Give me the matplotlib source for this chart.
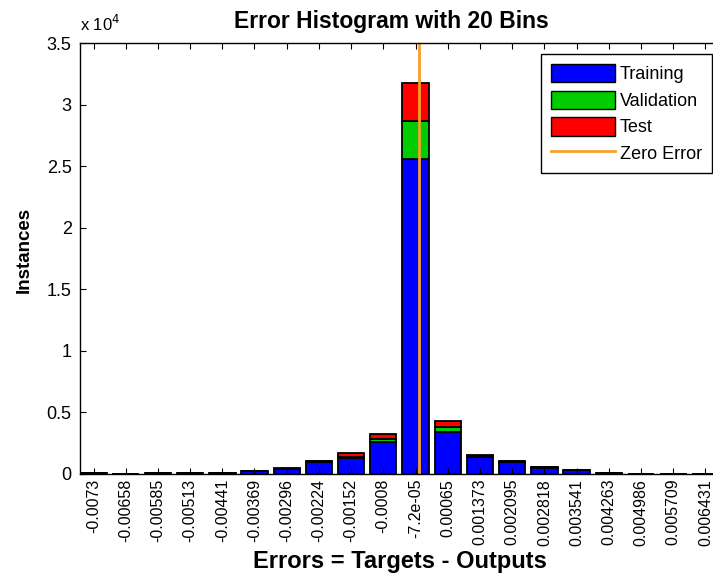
import matplotlib
matplotlib.use("Agg")
import matplotlib.pyplot as plt
import numpy as np
from matplotlib.patches import Patch
from matplotlib.lines import Line2D
from matplotlib.ticker import FuncFormatter, FixedLocator

plt.rcParams['font.family'] = ['Liberation Sans', 'DejaVu Sans']

# Bin centres (also used as tick labels)
bin_labels = ['-0.0073', '-0.00658', '-0.00585', '-0.00513', '-0.00441',
              '-0.00369', '-0.00296', '-0.00224', '-0.00152', '-0.0008',
              '-7.2e-05', '0.00065', '0.001373', '0.002095', '0.002818',
              '0.003541', '0.004263', '0.004986', '0.005709', '0.006431']
bin_centers = [float(s) for s in bin_labels]

training = [70, 0, 50, 50, 50, 220, 420, 1000, 1270, 2570,
            25550, 3430, 1400, 1000, 520, 310, 40, 30, 30, 30]
validation = [5, 0, 5, 5, 5, 10, 20, 40, 110, 250,
              3080, 400, 60, 40, 25, 15, 3, 3, 3, 3]
test = [5, 0, 5, 5, 5, 10, 20, 40, 300, 400,
        3160, 470, 70, 50, 25, 15, 3, 3, 3, 3]

series_names = ['Training', 'Validation', 'Test', 'Zero Error']
series_colors = ['#0000FF', '#00CC00', '#FF0000']
zero_color = '#F5A02A'

W, H = 713, 585
fig = plt.figure(figsize=(W / 100, H / 100), dpi=100)
ax = fig.add_axes([80 / W, 1 - 474 / H, 639 / W, (474 - 43) / H])

x = np.array(bin_centers)
step = (x[-1] - x[0]) / (len(x) - 1)
width = 0.82 * step

tr = np.array(training)
va = np.array(validation)
te = np.array(test)
ax.bar(x, tr, width=width, color=series_colors[0], edgecolor='black', linewidth=1.3)
ax.bar(x, va, width=width, bottom=tr, color=series_colors[1], edgecolor='black', linewidth=1.3)
ax.bar(x, te, width=width, bottom=tr + va, color=series_colors[2], edgecolor='black', linewidth=1.3)

ax.set_xlim(x[0] - 0.42 * step, x[-1] + 0.42 * step)
ax.set_ylim(0, 35000)
ax.axvline(0, color=zero_color, linewidth=2.0)

ax.xaxis.set_major_locator(FixedLocator(bin_centers))
ax.set_xticklabels(bin_labels, rotation=90, fontsize=11.5)
ax.set_yticks(np.arange(0, 35001, 5000))
ax.yaxis.set_major_formatter(FuncFormatter(lambda v, p: '%g' % (v / 1e4)))
ax.tick_params(axis='y', labelsize=13, pad=6)
ax.tick_params(direction='in', length=4, width=0.8, top=True, right=True)
for s in ax.spines.values():
    s.set_linewidth(1.0)

ax.text(0, 1.022, r'x 10$^4$', transform=ax.transAxes, fontsize=12, ha='left', va='bottom')
ax.set_title('Error Histogram with 20 Bins', fontsize=16.5, fontweight='bold', pad=11, x=0.4875)
ax.set_xlabel('Errors = Targets - Outputs', fontsize=17, fontweight='bold', labelpad=3)
ax.set_ylabel('Instances', fontsize=13.5, fontweight='bold')
ax.yaxis.set_label_coords(-47 / 639, 0.52)

handles = [Patch(facecolor=c, edgecolor='black', linewidth=1.0) for c in series_colors]
handles.append(Line2D([0], [0], color=zero_color, linewidth=2.0))
leg = ax.legend(handles, series_names, loc='upper right',
                bbox_to_anchor=(712 / W, 1 - 54 / H), bbox_transform=fig.transFigure,
                borderaxespad=0, fontsize=13, handlelength=3.5, handleheight=1.2,
                handletextpad=0.3, labelspacing=0.4, borderpad=0.55,
                fancybox=False, framealpha=1)
leg.get_frame().set_edgecolor('black')
leg.get_frame().set_linewidth(1.0)

fig.savefig('out.png', dpi=100)
